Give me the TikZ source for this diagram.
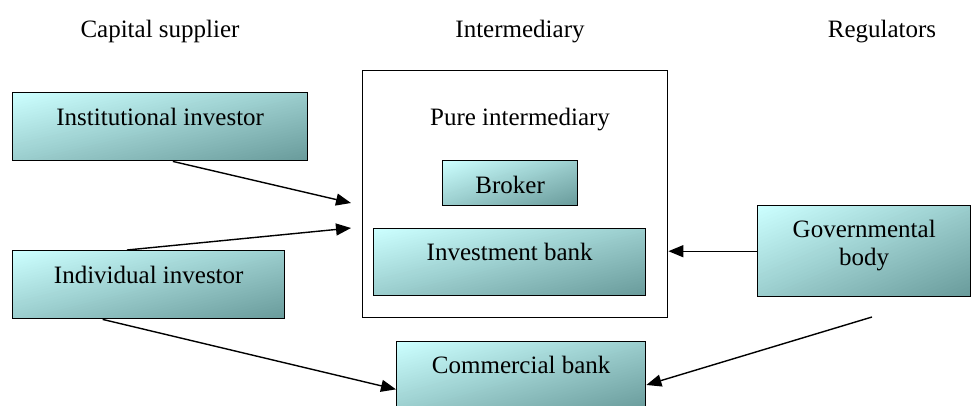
\documentclass[tikz,border=0pt]{standalone}
\usepackage{fontspec}
\setmainfont{Liberation Serif}
\usetikzlibrary{arrows.meta,positioning,calc}
\definecolor{boxlight}{RGB}{204,255,255}
\definecolor{boxdark}{RGB}{106,156,156}
% diagonal fill of a #1 x #2 box, painted in bands from the top left corner
\newcommand\boxshade[2]{%
  \pgfmathsetmacro\bw{#1}%
  \pgfmathsetmacro\bh{#2}%
  \foreach \i in {0,...,49}{%
    \pgfmathsetmacro\s{\i/25}%
    \pgfmathsetmacro\p{100*\i/49}%
    \fill[boxdark!\p!boxlight]
      ($(path picture bounding box.north west)+(\s*\bw,0)$) -- ++(3*\bw,0)
      -- ++(0,3*\bh) -- ($(path picture bounding box.north west)+(0,3*\bh)$)
      -- ($(path picture bounding box.north west)+(0,\s*\bh)$) -- cycle;}}
\tikzset{
    %Define standard arrow tip
    >={Triangle[length=15pt,width=12pt]},
    %Define style for shaded boxes: width, text height, text depth
    box/.style n args={3}{
           rectangle,
           draw=black, line width=1.4pt,
           anchor=north west,
           inner sep=0pt,
           minimum width=#1pt,
           text height=#2pt,
           text depth=#3pt,
           path picture={\boxshade{#1}{#2+#3}},
           align=center},
    outerbox/.style={
           rectangle,
           draw=black, line width=1.4pt,
           anchor=north west,
           inner sep=0pt},
    head/.style={
           inner sep=0pt,
           anchor=base},
    % Define arrow style
    link/.style={
           ->,
           line width=1.4pt}
}

\begin{document}
\begin{tikzpicture}[x=1pt,y=-1pt,font=\fontsize{25}{28}\selectfont]
\clip (0,0) rectangle (972,405);
\useasboundingbox (0,0) rectangle (972,405);
% column headings
\node[head] (cap) at (160,37) {Capital supplier};
\node[head] (mid) at (520,37) {Intermediary};
\node[head] (reg) at (882,37) {Regulators};
% capital suppliers
\node[box={295}{33}{35}] (inst) at (12,92) {Institutional investor};
\node[box={272}{33}{35}] (indiv) at (12,250) {Individual investor};
% intermediaries
\node[outerbox, minimum width=305pt, minimum height=247pt] (pure) at (362,70) {};
\node[head] (title) at (520,125) {Pure intermediary};
\node[box={135}{33}{12}] (broker) at (442,160) {Broker};
\node[box={272}{32}{35}] (invest) at (373,228) {Investment bank};
\node[box={249}{32}{37}] (comm) at (396,341) {Commercial bank};
% regulators
\node[box={213}{60}{31}] (gov) at (757,205) {Governmental\\body};
% loose ends
\coordinate (in1) at (351,203);
\coordinate (in2) at (351,228);
\coordinate (loose) at (872,317);
\draw[link] (inst.-70) -- (in1);
\draw[link] (indiv.122) -- (in2);
\draw[link] (indiv.217) -- (comm.186);
\draw[link] (gov.west) -- (gov.west -| pure.east);
\draw[link] (loose) -- (comm.-4);
\end{tikzpicture}
\end{document}
